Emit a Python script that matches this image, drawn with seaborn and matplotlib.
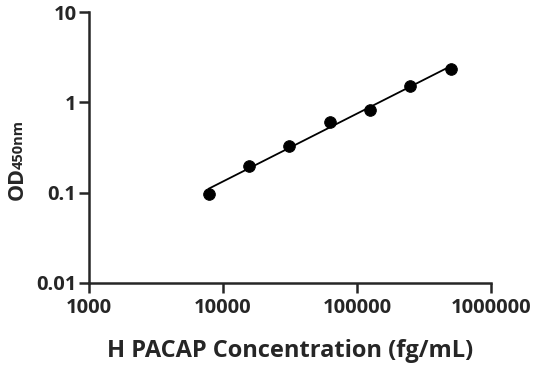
import numpy as np
import pandas as pd
import seaborn as sns
import matplotlib
matplotlib.use("Agg")
import matplotlib.pyplot as plt
from matplotlib.ticker import FixedLocator, FixedFormatter, NullLocator

# standard curve data
conc = [7812.5, 15625, 31250, 62500, 125000, 250000, 500000]
od450 = [0.0975, 0.197, 0.326, 0.606, 0.83, 1.52, 2.36]

x_ticks = [1e3, 1e4, 1e5, 1e6]
x_labels = ["1000", "10000", "100000", "1000000"]
y_ticks = [0.01, 0.1, 1, 10]
y_labels = ["0.01", "0.1", "1", "10"]


def main():
    sns.set_style("ticks")
    plt.rcParams["font.family"] = ["Open Sans", "DejaVu Sans"]
    plt.rcParams["font.weight"] = "bold"

    df = pd.DataFrame({"conc": conc, "od": od450})

    # linear fit in log-log space
    k, b = np.polyfit(np.log10(df["conc"]), np.log10(df["od"]), 1)
    fit = pd.DataFrame({"conc": [conc[0], conc[-1]]})
    fit["od"] = 10 ** (k * np.log10(fit["conc"]) + b)

    fig = plt.figure(figsize=(5.36, 3.71), dpi=100)
    ax = fig.add_axes([89 / 536, 1 - 283 / 371, 402 / 536, 271 / 371])

    sns.lineplot(data=fit, x="conc", y="od", color="black", lw=1.3, ax=ax)
    sns.scatterplot(data=df, x="conc", y="od", color="black", s=70,
                    edgecolor="black", zorder=3, ax=ax)

    ax.set_xscale("log")
    ax.set_yscale("log")
    ax.set_xlim(1e3, 1e6)
    ax.set_ylim(0.01, 10)
    ax.xaxis.set_major_locator(FixedLocator(x_ticks))
    ax.xaxis.set_major_formatter(FixedFormatter(x_labels))
    ax.yaxis.set_major_locator(FixedLocator(y_ticks))
    ax.yaxis.set_major_formatter(FixedFormatter(y_labels))
    ax.xaxis.set_minor_locator(NullLocator())
    ax.yaxis.set_minor_locator(NullLocator())

    sns.despine(ax=ax)
    for s in ["left", "bottom"]:
        ax.spines[s].set_linewidth(1.8)
    ax.tick_params(width=1.8, length=7, labelsize=14.5)
    ax.tick_params(axis="x", pad=4)
    ax.tick_params(axis="y", pad=2)
    for lab in ax.get_xticklabels() + ax.get_yticklabels():
        lab.set_fontweight("bold")

    ax.set_xlabel("H PACAP Concentration (fg/mL)", fontsize=17,
                  fontweight="bold")
    ax.xaxis.set_label_coords(0.5, (283 - 357) / 271)
    ax.xaxis.label.set_verticalalignment("baseline")
    ax.set_ylabel("")

    # y label: "OD" with smaller "450nm" after it, same baseline
    bx = 23 / 536
    od = fig.text(bx, 1 - 200 / 371, "OD", rotation=90, rotation_mode="anchor",
                  ha="left", va="baseline", fontsize=15.5, fontweight="bold")
    fig.canvas.draw()
    bb = od.get_window_extent()
    fig.text(bx, (bb.y1 - 2) / fig.bbox.height, "450nm", rotation=90,
             rotation_mode="anchor", ha="left", va="baseline",
             fontsize=10.5, fontweight="bold")

    fig.savefig("out.png", dpi=100)


if __name__ == "__main__":
    main()
